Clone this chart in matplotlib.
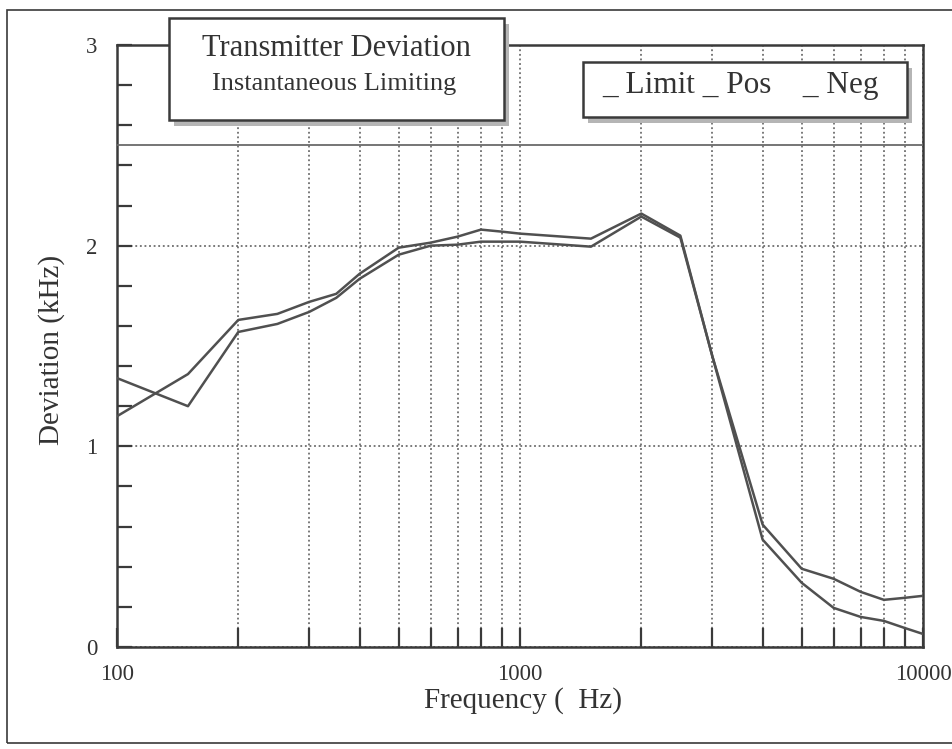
import matplotlib
matplotlib.use("Agg")
import matplotlib.pyplot as plt
from matplotlib.patches import Rectangle
from matplotlib.ticker import FixedLocator, NullFormatter, MultipleLocator

# 数据
freq = [100, 150, 200, 250, 300, 350, 400, 500, 600, 700, 800, 900, 1000,
        1500, 2000, 2500, 3000, 4000, 5000, 6000, 7000, 8000, 9000, 10000]
pos = [1.15, 1.36, 1.63, 1.66, 1.72, 1.76, 1.86, 1.99, 2.015, 2.045, 2.08, 2.07, 2.06,
       2.035, 2.16, 2.05, 1.45, 0.61, 0.39, 0.34, 0.275, 0.235, 0.245, 0.255]
neg = [1.34, 1.20, 1.57, 1.61, 1.67, 1.74, 1.835, 1.955, 2.0, 2.005, 2.02, 2.02, 2.02,
       1.995, 2.145, 2.04, 1.45, 0.535, 0.32, 0.195, 0.15, 0.13, 0.095, 0.065]
limit = 2.5

x_major = [100, 1000, 10000]
x_labels = ["100", "1000", "10000"]
y_major = [0, 1, 2, 3]

title = "Transmitter Deviation"
subtitle = "Instantaneous Limiting"
legend_text = "_ Limit _ Pos    _ Neg"

plt.rcParams['font.family'] = ['Liberation Serif', 'DejaVu Serif']

W, H = 952, 749
fig = plt.figure(figsize=(W / 100, H / 100), dpi=100)


def fx(px):
    return px / W


def fy(py):
    # 像素从顶部计算
    return 1 - py / H


# 坐标轴位置（像素）
ax_l, ax_r, ax_t, ax_b = 117, 923, 45, 647
ax = fig.add_axes([fx(ax_l), fy(ax_b), fx(ax_r - ax_l), (ax_b - ax_t) / H])

ink = "#3a3a3a"
line_c = "#505050"

ax.plot(freq, pos, color=line_c, lw=1.8, zorder=3)
ax.plot(freq, neg, color=line_c, lw=1.8, zorder=3)
ax.axhline(limit, color="#6a6a6a", lw=1.3, zorder=3)

ax.set_xscale("log")
ax.set_xlim(100, 10000)
ax.set_ylim(0, 3)

# 刻度
ax.xaxis.set_major_locator(FixedLocator(x_major))
ax.set_xticklabels(x_labels)
minor_x = [m * d for d in (100, 1000) for m in range(2, 10)]
ax.xaxis.set_minor_locator(FixedLocator(minor_x))
ax.xaxis.set_minor_formatter(NullFormatter())
ax.yaxis.set_major_locator(FixedLocator(y_major))
ax.yaxis.set_minor_locator(MultipleLocator(0.2))

ax.tick_params(axis="both", which="both", direction="in", color=ink,
               top=False, right=False, labelsize=16.5, labelcolor="#333")
ax.tick_params(axis="x", which="both", length=14, width=1.6, pad=12)
ax.tick_params(axis="y", which="both", length=11, width=1.6, pad=14)

# 网格线（点线）
ax.grid(True, which="minor", axis="x", color="#555", lw=1.1, ls=(0, (1.2, 1.8)))
ax.grid(True, which="major", axis="x", color="#555", lw=1.1, ls=(0, (1.2, 1.8)))
ax.grid(True, which="major", axis="y", color="#555", lw=1.1, ls=(0, (1.2, 1.8)))

for s in ax.spines.values():
    s.set_color(ink)
    s.set_linewidth(1.8)

# 轴标题
fig.text(fx(52), fy(350), "Deviation (kHz)", rotation=90, ha="center", va="center",
         fontsize=21, color="#333")
fig.text(fx(523), fy(701), "Frequency (  Hz)", ha="center", va="center",
         fontsize=21, color="#333")


def shadow_box(x0, y0, x1, y1):
    # 带阴影的白色方框
    sh = Rectangle((fx(x0 + 5), fy(y1 + 6)), fx(x1 - x0), (y1 - y0) / H,
                   transform=fig.transFigure, facecolor="#b5b5b5", edgecolor="none",
                   zorder=5)
    box = Rectangle((fx(x0), fy(y1)), fx(x1 - x0), (y1 - y0) / H,
                    transform=fig.transFigure, facecolor="white", edgecolor=ink,
                    lw=1.8, zorder=6)
    fig.patches.extend([sh, box])


shadow_box(169, 18, 504, 120)
shadow_box(583, 62, 907, 117)

fig.text(fx(336), fy(49), title, ha="center", va="center", fontsize=22,
         color="#333", zorder=7)
fig.text(fx(334), fy(84), subtitle, ha="center", va="center", fontsize=19,
         color="#333", zorder=7)
fig.text(fx(741), fy(86), legend_text, ha="center", va="center", fontsize=22.5,
         color="#333", zorder=7)

# 外框
frame = Rectangle((fx(7), fy(743)), fx(1000), (743 - 10) / H, transform=fig.transFigure,
                  facecolor="none", edgecolor=ink, lw=1.2, zorder=1)
fig.patches.append(frame)

fig.savefig("out.png", dpi=100)
